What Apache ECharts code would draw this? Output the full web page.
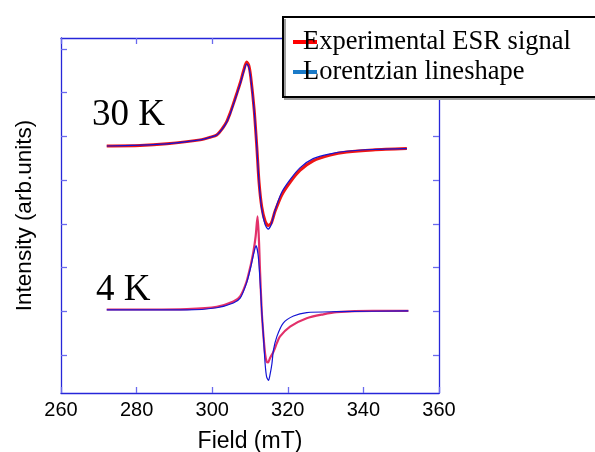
<!DOCTYPE html>
<html>
<head>
<meta charset="utf-8">
<script src="https://cdn.jsdelivr.net/npm/echarts@6/dist/echarts.min.js"></script>
<style>
  html, body { margin: 0; padding: 0; background: #fff; }
  #main { width: 595px; height: 452px; }
</style>
</head>
<body>
<div id="main"></div>
<script>
// 读图得到的数据 (field in mT, intensity in arb. units)
const xTicks = [260, 280, 300, 320, 340, 360];
const yTicks = [1, 2, 3, 4, 5, 6, 7, 8];

// 30 K
const exp30 = [
  [272.1, 5.78], [280.9, 5.79], [288.0, 5.83], [296.8, 5.92], [299.5, 5.98],
  [301.2, 6.03], [302.7, 6.18], [303.8, 6.33], [304.7, 6.52], [305.5, 6.72],
  [306.5, 6.98], [307.4, 7.22], [308.3, 7.50], [309.1, 7.70], [309.7, 7.62],
  [310.2, 7.36], [311.1, 6.61], [311.8, 5.76], [312.4, 4.94], [313.1, 4.39],
  [314.0, 4.06], [314.8, 3.96], [315.6, 4.01], [316.6, 4.28], [318.4, 4.66],
  [320.6, 4.95], [323.2, 5.22], [326.7, 5.44], [331.2, 5.57], [335.6, 5.64],
  [342.5, 5.69], [351.5, 5.72]
];
const fit30 = [
  [272.1, 5.78], [280.9, 5.80], [288.0, 5.83], [296.8, 5.92], [299.5, 5.98],
  [301.2, 6.03], [302.7, 6.17], [303.8, 6.32], [304.7, 6.50], [305.5, 6.70],
  [306.5, 6.96], [307.4, 7.20], [308.3, 7.47], [309.1, 7.66], [309.7, 7.58],
  [310.2, 7.33], [311.1, 6.60], [311.8, 5.76], [312.4, 4.94], [313.1, 4.34],
  [314.0, 3.98], [314.8, 3.88], [315.6, 3.98], [316.6, 4.30], [318.4, 4.72],
  [320.6, 5.01], [323.2, 5.28], [326.7, 5.49], [331.2, 5.60], [335.6, 5.66],
  [342.5, 5.70], [351.5, 5.72]
];

// 4 K
const exp4 = [
  [272.1, 2.04], [283.5, 2.04], [293.3, 2.05], [301.2, 2.10], [305.6, 2.22],
  [307.4, 2.34], [309.1, 2.68], [310.2, 3.06], [310.9, 3.36], [311.5, 3.72],
  [312.0, 4.17], [312.4, 3.56], [312.6, 3.04], [313.1, 2.01], [313.5, 1.50],
  [314.0, 1.02], [314.4, 0.85], [314.8, 0.83], [315.3, 0.93], [316.2, 1.07],
  [317.1, 1.27], [317.9, 1.42], [320.6, 1.65], [325.0, 1.84], [329.4, 1.93],
  [332.9, 1.98], [342.5, 2.01], [351.9, 2.01]
];
const fit4 = [
  [272.1, 2.03], [293.3, 2.03], [301.2, 2.08], [305.6, 2.19], [307.4, 2.30],
  [309.1, 2.65], [310.2, 3.01], [310.9, 3.29], [311.6, 3.50], [312.2, 3.25],
  [312.8, 2.49], [313.1, 2.01], [313.5, 1.50], [314.0, 0.80], [314.4, 0.50],
  [314.9, 0.42], [315.3, 0.55], [315.8, 0.80], [316.2, 1.11], [317.1, 1.42],
  [318.8, 1.73], [321.5, 1.89], [325.0, 1.97], [332.9, 1.99], [351.9, 2.01]
];

const axisBlue = '#2626d9';
const tickBlue = '#6a6aee';

const config = {
  animation: false,
  backgroundColor: '#fff',
  grid: { left: 61, right: 156, top: 38, bottom: 59, outerBoundsMode: 'none' },
  legend: {
    orient: 'vertical',
    left: 283,
    top: 17,
    padding: [10, 10, 10, 10],
    itemGap: 0,
    itemWidth: 24,
    itemHeight: 4,
    icon: 'rect',
    z: 10,
    textStyle: {
      fontFamily: 'Liberation Serif',
      fontSize: 26.5,
      color: '#000',
      lineHeight: 30,
      padding: [0, 0, 0, -19]
    },
    data: [
      { name: 'Experimental ESR signal', itemStyle: { color: '#ff0000' } },
      { name: 'Lorentzian lineshape', itemStyle: { color: '#1a7ac8' } }
    ]
  },
  graphic: [
    // 图例外框: open on the right, it runs off the edge like in the original
    { type: 'rect', x: 283, y: 17, z: 8,
      shape: { x: 0, y: 0, width: 340, height: 80 },
      style: { fill: '#fff', lineWidth: 0 } },
    { type: 'polyline', z: 9,
      shape: { points: [[640, 99], [285, 99], [285, 19]] },
      style: { stroke: '#a0a0a0', lineWidth: 2, fill: null } },
    { type: 'polyline', z: 9,
      shape: { points: [[640, 17], [283, 17], [283, 97], [640, 97]] },
      style: { stroke: '#000', lineWidth: 2, fill: null } },
    { type: 'text', left: 92, top: 97, z: 5,
      style: { text: '30 K', font: '37px "Liberation Serif"', fill: '#000' } },
    { type: 'text', left: 96, top: 272, z: 5,
      style: { text: '4 K', font: '37px "Liberation Serif"', fill: '#000' } }
  ],
  xAxis: [
    {
      type: 'value', min: 260, max: 360, interval: 20,
      name: 'Field (mT)', nameLocation: 'middle', nameGap: 37,
      nameTextStyle: { fontFamily: 'Liberation Sans', fontSize: 23, color: '#000' },
      axisLine: { lineStyle: { color: axisBlue, width: 1.3 } },
      axisTick: { inside: true, length: 6, lineStyle: { color: tickBlue, width: 1.3 } },
      axisLabel: { fontFamily: 'Liberation Sans', fontSize: 20, color: '#000', margin: 7 },
      splitLine: { show: false }
    },
    {
      type: 'value', position: 'top', min: 260, max: 360, interval: 20,
      axisLine: { lineStyle: { color: axisBlue, width: 1.3 } },
      axisTick: { inside: true, length: 6, lineStyle: { color: tickBlue, width: 1.3 } },
      axisLabel: { show: false },
      splitLine: { show: false }
    }
  ],
  yAxis: [
    {
      type: 'value', min: 0.13, max: 8.25,
      name: 'Intensity (arb.units)', nameLocation: 'middle', nameGap: 25,
      nameTextStyle: { fontFamily: 'Liberation Sans', fontSize: 22.5, color: '#000' },
      axisLine: { show: true, lineStyle: { color: axisBlue, width: 1.3 } },
      axisTick: { show: true, inside: true, length: 6, customValues: yTicks,
        lineStyle: { color: tickBlue, width: 1.3 } },
      axisLabel: { show: false },
      splitLine: { show: false }
    },
    {
      type: 'value', position: 'right', min: 0.13, max: 8.25,
      axisLine: { show: true, lineStyle: { color: axisBlue, width: 1.3 } },
      axisTick: { show: true, inside: true, length: 6, customValues: yTicks,
        lineStyle: { color: tickBlue, width: 1.3 } },
      axisLabel: { show: false },
      splitLine: { show: false }
    }
  ],
  series: [
    {
      name: 'Experimental ESR signal', type: 'line', data: exp30,
      showSymbol: false, smooth: 0.25, z: 2,
      itemStyle: { color: '#ff0000' },
      lineStyle: { color: '#ee1515', width: 3 }
    },
    {
      name: 'Experimental ESR signal', type: 'line', data: exp4,
      showSymbol: false, smooth: 0.25, z: 2,
      itemStyle: { color: '#ff0000' },
      lineStyle: { color: '#e2306a', width: 2.2 }
    },
    {
      name: 'Lorentzian lineshape', type: 'line', data: fit30,
      showSymbol: false, smooth: 0.25, z: 3,
      itemStyle: { color: '#1a7ac8' },
      lineStyle: { color: '#1414d4', width: 1.2 }
    },
    {
      name: 'Lorentzian lineshape', type: 'line', data: fit4,
      showSymbol: false, smooth: 0.25, z: 3,
      itemStyle: { color: '#1a7ac8' },
      lineStyle: { color: '#1414d4', width: 1.2 }
    }
  ]
};

const myChart = echarts.init(document.getElementById('main'));
myChart.setOption(config);
</script>
</body>
</html>
